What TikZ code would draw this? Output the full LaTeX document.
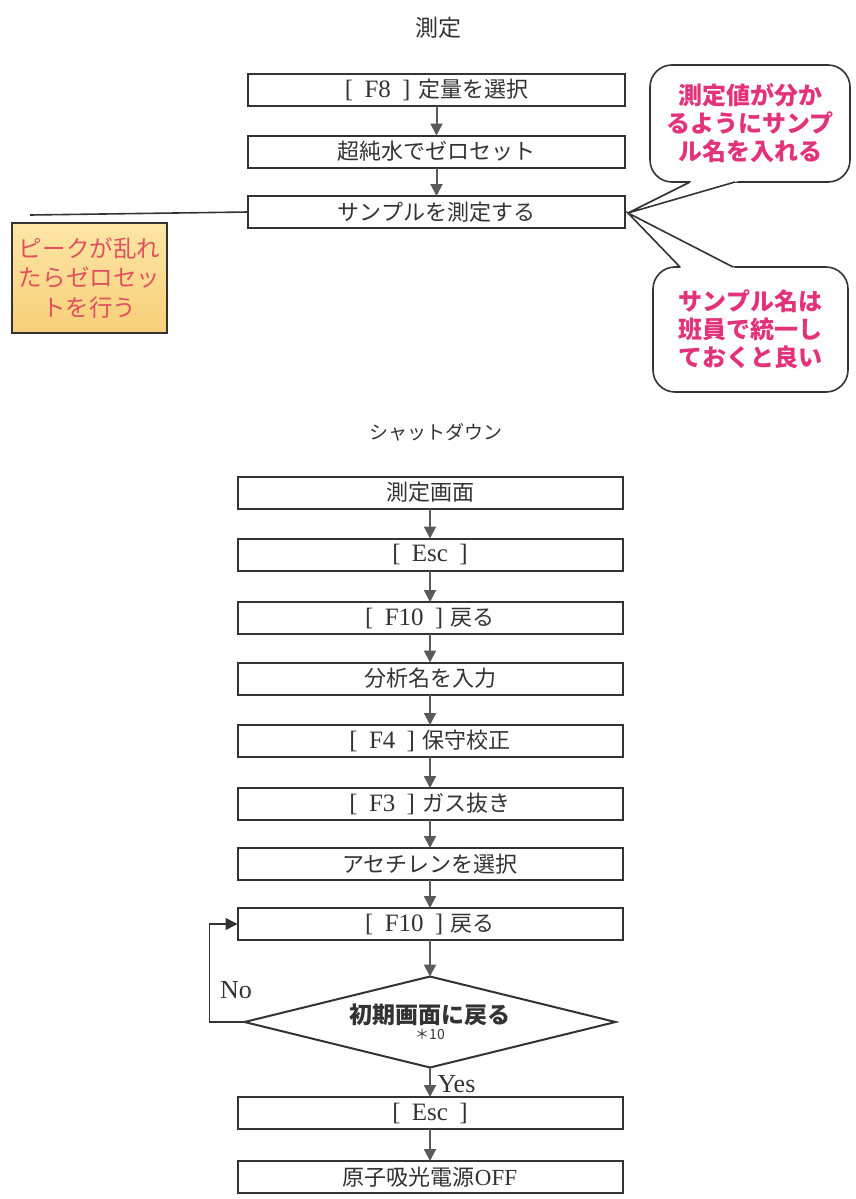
\documentclass[tikz,border=0pt]{standalone}
\usepackage{fontspec}
\setmainfont{Liberation Serif}
\newfontfamily\jp{Noto Sans CJK JP}
\usetikzlibrary{arrows.meta,shapes.geometric}
\definecolor{ink}{HTML}{333333}
\definecolor{arrowgray}{HTML}{5A5A5A}
\definecolor{pinktext}{HTML}{E2337A}
\definecolor{notered}{HTML}{E0505E}
\definecolor{noteyellowtop}{HTML}{FCE6A6}
\definecolor{noteyellowbot}{HTML}{F8CF78}
\newcommand{\jtxt}[1]{{\jp\fontsize{22}{26}\selectfont #1}}
\newcommand{\keytxt}[1]{[\hspace{0.45em}#1\hspace{0.45em}]\hspace{0.3em}}
\begin{document}
\begin{tikzpicture}[x=1pt,y=-1pt,
  stepbox/.style={draw=ink, line width=2pt, minimum height=32pt, inner sep=0pt, outer sep=0pt, text=ink, font=\fontsize{25}{28}\selectfont},
  upbox/.style={stepbox, minimum width=377pt},
  lowbox/.style={stepbox, minimum width=385pt},
  arr/.style={draw=arrowgray, line width=2pt, -{Triangle[length=12pt,width=12pt]}},
  bubble/.style={draw=ink, line width=1.6pt, rounded corners=22pt, fill=white, inner sep=0pt, outer sep=0pt, text=pinktext, align=center, font=\jp\bfseries\fontsize{24}{28}\selectfont},
  title/.style={text=ink, font=\jp\fontsize{23}{27}\selectfont},
  lbl/.style={text=ink, font=\fontsize{26}{30}\selectfont}
]
\useasboundingbox (0,0) rectangle (856,1199);
\fill[white] (0,0) rectangle (856,1199);

% ---- 測定 ----
\node[title] (t1) at (438,28) {測定};
\node[upbox] (a1) at (436.5,90) {\keytxt{F8}\jtxt{定量を選択}};
\node[upbox] (a2) at (436.5,151.5) {\jtxt{超純水でゼロセット}};
\node[upbox] (a3) at (436.5,212) {\jtxt{サンプルを測定する}};
\draw[arr] (a1) -- (a2);
\draw[arr] (a2) -- (a3);

\coordinate (lineend) at (30,215);
\draw[ink, line width=1.6pt] (a3.west) -- (lineend);

\node[draw=ink, line width=1.6pt, top color=noteyellowtop, bottom color=noteyellowbot,
  minimum width=155pt, minimum height=110pt, inner sep=0pt, text=notered, align=center,
  font=\jp\fontsize{23.5}{29.5}\selectfont] (note) at (89.5,278) {ピークが乱れ\\たらゼロセッ\\トを行う};

% callouts
\node[bubble, minimum width=200pt, minimum height=117pt] (c1) at (750,123.5) {測定値が分か\\るようにサンプ\\ル名を入れる};
\node[bubble, minimum width=195pt, minimum height=125pt] (c2) at (750.5,329.5) {サンプル名は\\班員で統一し\\ておくと良い};
\coordinate (tip) at (628,213);
\fill[white] (tip) -- (698,178) -- (749,178) -- cycle;
\draw[ink, line width=1.6pt] (690,182) -- (tip) -- (735,182);
\fill[white] (tip) -- (684,271) -- (741,271) -- cycle;
\draw[ink, line width=1.6pt] (680,267) -- (tip) -- (733,267);

% ---- シャットダウン ----
\node[title, font=\jp\fontsize{19}{23}\selectfont] (t2) at (436,432) {シャットダウン};
\node[lowbox] (b1) at (430,492.5) {\jtxt{測定画面}};
\node[lowbox] (b2) at (430,554.5) {[\hspace{0.45em}Esc\hspace{0.45em}]};
\node[lowbox] (b3) at (430,618) {\keytxt{F10}\jtxt{戻る}};
\node[lowbox] (b4) at (430,678.5) {\jtxt{分析名を入力}};
\node[lowbox] (b5) at (430,741) {\keytxt{F4}\jtxt{保守校正}};
\node[lowbox] (b6) at (430,804) {\keytxt{F3}\jtxt{ガス抜き}};
\node[lowbox] (b7) at (430,864) {\jtxt{アセチレンを選択}};
\node[lowbox] (b8) at (430,924) {\keytxt{F10}\jtxt{戻る}};
\node[draw=ink, line width=2pt, diamond, aspect=4, minimum width=371pt, minimum height=91pt,
  inner sep=0pt, outer sep=0pt, align=center, text=ink] (d) at (430,1022)
  {{\jp\bfseries\fontsize{23}{26}\selectfont 初期画面に戻る}\\[2pt]{\jp\fontsize{14}{16}\selectfont ＊10}};
\node[lowbox] (b9) at (430,1113) {[\hspace{0.45em}Esc\hspace{0.45em}]};
\node[lowbox] (b10) at (430,1177) {\jtxt{原子吸光電源}{\fontsize{23}{26}\selectfont OFF}};

\draw[arr] (b1) -- (b2);
\draw[arr] (b2) -- (b3);
\draw[arr] (b3) -- (b4);
\draw[arr] (b4) -- (b5);
\draw[arr] (b5) -- (b6);
\draw[arr] (b6) -- (b7);
\draw[arr] (b7) -- (b8);
\draw[arr] (b8) -- (d);
\draw[arr] (d) -- (b9);
\draw[arr] (b9) -- (b10);
\draw[arr, draw=ink, line width=1.6pt] (d.west) -- ++(-35,0) |- (b8.west);

\node[lbl] (no) at (236,990) {No};
\node[lbl, anchor=west] (yes) at (434,1084) {Yes};
\end{tikzpicture}
\end{document}
